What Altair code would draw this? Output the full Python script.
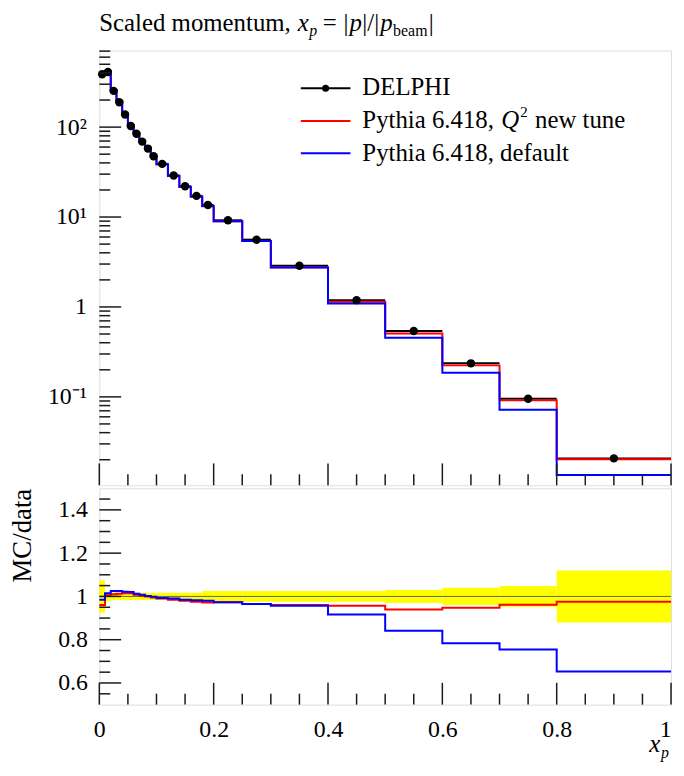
import altair as alt
import pandas as pd

# ---------------- data ----------------
edges = [0.0, 0.01, 0.02, 0.03, 0.04, 0.05, 0.06, 0.07, 0.08, 0.09, 0.10,
         0.12, 0.14, 0.16, 0.18, 0.20, 0.25, 0.30, 0.40, 0.50, 0.60, 0.70, 0.80, 1.0]
delphi = [387, 410, 253, 189, 138, 103, 84.5, 69.0, 57.7, 47.4, 39.0,
          29.0, 22.0, 17.2, 13.6, 9.2, 5.6, 2.87, 1.19, 0.54, 0.236, 0.0953, 0.0207]
pythia_new = [371.5, 412, 255.5, 191.3, 140.1, 104.5, 85.2, 69.2, 57.7, 47.2, 38.6,
              28.6, 21.6, 16.8, 13.2, 8.95, 5.40, 2.76, 1.14, 0.508, 0.224, 0.0917, 0.0202]
pythia_default = [381.2, 416.2, 259.3, 193.7, 141.0, 105.1, 85.5, 69.6, 57.8, 47.3, 38.7,
                  28.7, 21.7, 16.9, 13.3, 8.95, 5.40, 2.75, 1.09, 0.454, 0.185, 0.0720, 0.0135]
ratio_new = [0.960, 1.005, 1.010, 1.012, 1.015, 1.015, 1.008, 1.003, 1.000, 0.995, 0.990,
             0.985, 0.980, 0.975, 0.972, 0.973, 0.965, 0.960, 0.957, 0.940, 0.948, 0.962, 0.975]
ratio_default = [0.985, 1.015, 1.025, 1.025, 1.022, 1.020, 1.012, 1.008, 1.002, 0.998, 0.993,
                 0.990, 0.985, 0.982, 0.980, 0.973, 0.965, 0.957, 0.916, 0.841, 0.784, 0.755, 0.653]
data_rel_err = [0.075, 0.022, 0.017, 0.017, 0.017, 0.017, 0.017, 0.017, 0.017, 0.017, 0.017,
                0.017, 0.017, 0.017, 0.025, 0.025, 0.025, 0.025, 0.025, 0.030, 0.040, 0.048, 0.120]

legend_labels = ["DELPHI", "Pythia 6.418,", "Q", "2", "new tune", "Pythia 6.418, default"]
title_parts = ["Scaled momentum,", "x", "p", "=", "|", "p", "|/|", "p", "beam", "|"]
xlabel_parts = ["x", "p"]
ratio_title = "MC/data"

major_x = [0, 0.2, 0.4, 0.6, 0.8, 1.0]
minor_x = [0.05, 0.1, 0.15, 0.25, 0.3, 0.35, 0.45, 0.5, 0.55, 0.65, 0.7, 0.75, 0.85, 0.9, 0.95]
main_major_y = [0.1, 1, 10, 100]
main_minor_y = [0.02, 0.03, 0.04, 0.05, 0.06, 0.07, 0.08, 0.09,
                0.2, 0.3, 0.4, 0.5, 0.6, 0.7, 0.8, 0.9,
                2, 3, 4, 5, 6, 7, 8, 9,
                20, 30, 40, 50, 60, 70, 80, 90,
                200, 300, 400, 500, 600, 700]
ratio_major_y = [0.6, 0.8, 1.0, 1.2, 1.4]
ratio_minor_y = [0.55, 0.65, 0.7, 0.75, 0.85, 0.9, 0.95, 1.05, 1.1, 1.15, 1.25, 1.3, 1.35, 1.45]

# ---------------- styling ----------------
W, H1, H2 = 576, 438, 218
FONT = "Liberation Serif"
RED, BLUE, YELLOW = "#ff0000", "#0000ff", "#ffff00"
INK = "#1a1a1a"
MAJ, MIN = 22, 11
LBL = 24

xs = alt.Scale(domain=[0, 1], nice=False, zero=False)
ys_main = alt.Scale(type="log", domain=[0.0104, 711], nice=False)
ys_ratio = alt.Scale(domain=[0.5, 1.5], nice=False, zero=False)

n = len(delphi)
bins = pd.DataFrame({
    "lo": edges[:-1], "hi": edges[1:],
    "mid": [(edges[i] + edges[i + 1]) / 2 for i in range(n)],
    "val": delphi,
    "blo": [1 - e for e in data_rel_err], "bhi": [1 + e for e in data_rel_err],
})


def steps(vals):
    return pd.DataFrame({"x": edges[:-1] + [edges[-1]], "y": list(vals) + [vals[-1]]})


no_x = alt.Axis(labels=False, ticks=False, domain=False, grid=False, title=None)
main_y_axis = alt.Axis(values=main_major_y, ticks=False, domain=False, grid=False, title=None,
                       labelExpr="datum.value >= 100 ? '10²' : datum.value >= 10 ? '10¹' : "
                                 "datum.value >= 1 ? '1' : '10⁻¹'",
                       labelFont=FONT, labelFontSize=LBL, labelPadding=13, labelColor="black")

# ---------------- main panel ----------------
X = lambda f: alt.X(f, scale=xs, axis=no_x)
YM = lambda f: alt.Y(f, scale=ys_main, axis=main_y_axis)

m_err = alt.Chart(bins).mark_rule(color="black", strokeWidth=2).encode(
    x=X("lo:Q"), x2="hi:Q", y=YM("val:Q"))
m_red = alt.Chart(steps(pythia_new)).mark_line(interpolate="step-after", color=RED, strokeWidth=2).encode(
    x=X("x:Q"), y=YM("y:Q"))
m_blue = alt.Chart(steps(pythia_default)).mark_line(interpolate="step-after", color=BLUE, strokeWidth=2).encode(
    x=X("x:Q"), y=YM("y:Q"))
m_pts = alt.Chart(bins).mark_circle(size=72, color="black", opacity=1).encode(
    x=X("mid:Q"), y=YM("val:Q"))

m_tick_maj_y = alt.Chart(pd.DataFrame({"v": main_major_y})).mark_rule(color=INK, strokeWidth=1.5).encode(
    y=YM("v:Q"), x=alt.value(0), x2=alt.value(MAJ))
m_tick_min_y = alt.Chart(pd.DataFrame({"v": main_minor_y})).mark_rule(color=INK, strokeWidth=1.5).encode(
    y=YM("v:Q"), x=alt.value(0), x2=alt.value(MIN))
m_tick_maj_x = alt.Chart(pd.DataFrame({"v": major_x})).mark_rule(color=INK, strokeWidth=1.5).encode(
    x=X("v:Q"), y=alt.value(H1), y2=alt.value(H1 - MAJ))
m_tick_min_x = alt.Chart(pd.DataFrame({"v": minor_x})).mark_rule(color=INK, strokeWidth=1.5).encode(
    x=X("v:Q"), y=alt.value(H1), y2=alt.value(H1 - MIN))


def txt(s, x, y, size, style="normal", align="left"):
    return alt.Chart(pd.DataFrame({"t": [s]})).mark_text(
        align=align, baseline="alphabetic", font=FONT, fontSize=size, fontStyle=style, color="black"
    ).encode(text="t:N", x=alt.value(x), y=alt.value(y))


def legline(color, y):
    return alt.Chart(pd.DataFrame({"c": [color]})).mark_rule(color=color, strokeWidth=2.2).encode(
        x=alt.value(203), x2=alt.value(253), y=alt.value(y))


LF = 25
leg = [
    legline("black", 38),
    alt.Chart(pd.DataFrame({"c": ["black"]})).mark_circle(size=50, color="black", opacity=1).encode(
        x=alt.value(228), y=alt.value(38)),
    legline(RED, 71),
    legline(BLUE, 103.5),
    txt(legend_labels[0], 265, 45, LF),
    txt(legend_labels[1], 265, 78, LF),
    txt(legend_labels[2], 405, 78, LF, "italic"),
    txt(legend_labels[3], 424, 67, 15),
    txt(legend_labels[4], 439, 78, LF),
    txt(legend_labels[5], 265, 111, LF),
]

tb, ts = -20, -15
TF = 25
title = [
    txt(title_parts[0], 0, tb, TF),
    txt(title_parts[1], 200, tb, TF, "italic"),
    txt(title_parts[2], 211.5, ts, 16, "italic"),
    txt(title_parts[3], 225, tb, TF),
    txt(title_parts[4], 246, tb, TF),
    txt(title_parts[5], 252, tb, TF, "italic"),
    txt(title_parts[6], 265, tb, TF),
    txt(title_parts[7], 283, tb, TF, "italic"),
    txt(title_parts[8], 296, ts, 16),
    txt(title_parts[9], 332, tb, TF),
]

main = alt.layer(
    m_err, m_red, m_blue, m_pts,
    m_tick_maj_y, m_tick_min_y, m_tick_maj_x, m_tick_min_x,
    *leg, *title
).properties(width=W, height=H1)

# ---------------- ratio panel ----------------
ratio_x_axis = alt.Axis(values=major_x, format="~g", ticks=False, domain=False, grid=False, title=None,
                        labelFont=FONT, labelFontSize=LBL, labelPadding=13, labelColor="black",
                        labelAlign={"condition": {"test": "datum.value >= 1", "value": "right"},
                                    "value": "center"})
ratio_y_axis = alt.Axis(values=ratio_major_y, format="~g", ticks=False, domain=False, grid=False,
                        title=ratio_title, titleAnchor="end", titleFont=FONT, titleFontSize=27,
                        titleFontWeight="normal", titleColor="black", titlePadding=21,
                        labelFont=FONT, labelFontSize=LBL, labelPadding=12, labelColor="black")
XR = lambda f: alt.X(f, scale=xs, axis=ratio_x_axis)
YR = lambda f: alt.Y(f, scale=ys_ratio, axis=ratio_y_axis)

r_band = alt.Chart(bins).mark_rect(color=YELLOW).encode(
    x=XR("lo:Q"), x2="hi:Q", y=YR("blo:Q"), y2="bhi:Q")
r_one = alt.Chart(pd.DataFrame({"v": [1.0]})).mark_rule(color="#555555", strokeWidth=0.9).encode(
    y=YR("v:Q"))
r_red = alt.Chart(steps(ratio_new)).mark_line(interpolate="step-after", color=RED, strokeWidth=2).encode(
    x=XR("x:Q"), y=YR("y:Q"))
r_blue = alt.Chart(steps(ratio_default)).mark_line(interpolate="step-after", color=BLUE, strokeWidth=2).encode(
    x=XR("x:Q"), y=YR("y:Q"))
r_tick_maj_y = alt.Chart(pd.DataFrame({"v": ratio_major_y})).mark_rule(color=INK, strokeWidth=1.5).encode(
    y=YR("v:Q"), x=alt.value(0), x2=alt.value(MAJ))
r_tick_min_y = alt.Chart(pd.DataFrame({"v": ratio_minor_y})).mark_rule(color=INK, strokeWidth=1.5).encode(
    y=YR("v:Q"), x=alt.value(0), x2=alt.value(MIN))
r_tick_maj_x = alt.Chart(pd.DataFrame({"v": major_x})).mark_rule(color=INK, strokeWidth=1.5).encode(
    x=XR("v:Q"), y=alt.value(H2), y2=alt.value(H2 - MAJ))
r_tick_min_x = alt.Chart(pd.DataFrame({"v": minor_x})).mark_rule(color=INK, strokeWidth=1.5).encode(
    x=XR("v:Q"), y=alt.value(H2), y2=alt.value(H2 - MIN))
xlab = [
    txt(xlabel_parts[0], W - 22, 266, 25, "italic"),
    txt(xlabel_parts[1], W - 10, 272, 16, "italic"),
]

ratio = alt.layer(
    r_band, r_one, r_red, r_blue,
    r_tick_maj_y, r_tick_min_y, r_tick_maj_x, r_tick_min_x, *xlab
).properties(width=W, height=H2)

chart = alt.vconcat(main, ratio, spacing=0).properties(
    padding={"left": 0, "top": -1, "right": 0, "bottom": 0}
).configure_view(stroke=INK, strokeWidth=1.5).configure(background="white")

chart.save("out.html", embed_options={"renderer": "svg", "actions": False})
